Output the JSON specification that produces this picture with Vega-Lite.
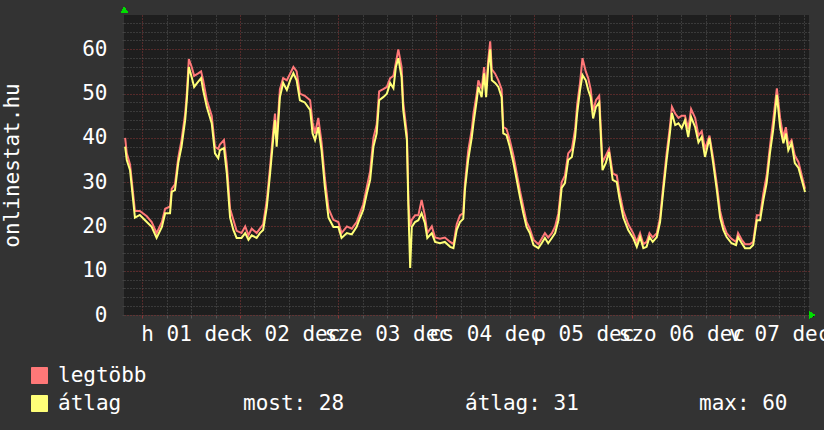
{
  "$schema": "https://vega.github.io/schema/vega-lite/v6.json",
  "width": 685,
  "height": 300,
  "autosize": {"type": "none"},
  "padding": {"left": 124, "top": 15, "right": 15, "bottom": 115},
  "background": "#333333",
  "config": {
    "font": "DejaVu Sans Mono",
    "view": {"fill": "#1e1e1e", "stroke": null}
  },
  "data": {"values": [
    {"h":-4.2,"max":40,"avg":38},{"h":-3.8,"max":36.5,"avg":35},{"h":-3.0,"max":34,"avg":32.7},{"h":-1.8,"max":23.5,"avg":22},{"h":-0.6,"max":23.5,"avg":22.6},
    {"h":1.1,"max":22.3,"avg":21},{"h":2.3,"max":21,"avg":19.9},{"h":3.5,"max":18.5,"avg":17.4},{"h":4.8,"max":21,"avg":19.9},{"h":5.6,"max":24,"avg":23},
    {"h":6.8,"max":24.5,"avg":23},{"h":7.2,"max":28.5,"avg":27.8},{"h":8.0,"max":29.5,"avg":28.2},{"h":8.8,"max":35.5,"avg":34.3},{"h":9.6,"max":39.5,"avg":38},
    {"h":10.5,"max":45.5,"avg":44},{"h":10.9,"max":50,"avg":48.5},{"h":11.4,"max":57.8,"avg":56},{"h":12.1,"max":56,"avg":53.7},{"h":12.7,"max":54,"avg":51.5},
    {"h":13.6,"max":54.5,"avg":52.6},{"h":14.4,"max":55,"avg":53.5},{"h":14.9,"max":53,"avg":50.8},{"h":15.8,"max":48.5,"avg":47},{"h":17.0,"max":45,"avg":43.3},
    {"h":17.8,"max":38,"avg":36.5},{"h":18.6,"max":37.5,"avg":35.4},{"h":19.0,"max":38.5,"avg":37.2},{"h":20.0,"max":39.5,"avg":37.7},{"h":20.7,"max":34,"avg":32},
    {"h":21.5,"max":24,"avg":22},{"h":22.3,"max":21.5,"avg":19.2},{"h":23.1,"max":19,"avg":17.4},{"h":24.3,"max":18.5,"avg":17.4},{"h":25.2,"max":20,"avg":18.5},
    {"h":26.0,"max":18,"avg":17},{"h":26.8,"max":19.5,"avg":18},{"h":28.0,"max":18.5,"avg":17.4},{"h":28.8,"max":19.5,"avg":18.5},{"h":29.6,"max":20.5,"avg":19.2},
    {"h":30.5,"max":26,"avg":24.4},{"h":31.3,"max":33.5,"avg":32},{"h":32.1,"max":42,"avg":40.2},{"h":32.5,"max":45.5,"avg":44},{"h":32.9,"max":40,"avg":38},
    {"h":33.7,"max":51,"avg":49.2},{"h":34.5,"max":53.5,"avg":52.4},{"h":35.4,"max":53,"avg":50.8},{"h":36.2,"max":54.5,"avg":53},{"h":37.0,"max":56,"avg":54.6},
    {"h":37.8,"max":55,"avg":53},{"h":38.6,"max":50,"avg":48.5},{"h":39.8,"max":49.5,"avg":48},{"h":41.1,"max":48.5,"avg":46.3},{"h":41.7,"max":43.5,"avg":41},
    {"h":42.3,"max":41,"avg":39.5},{"h":43.1,"max":44.5,"avg":42.4},{"h":43.9,"max":39,"avg":37.2},{"h":44.7,"max":31,"avg":29},{"h":45.6,"max":24,"avg":22},
    {"h":46.8,"max":21.5,"avg":19.9},{"h":48.0,"max":21,"avg":19.9},{"h":48.8,"max":18.5,"avg":17.4},{"h":50.1,"max":20,"avg":18.5},{"h":51.3,"max":19.5,"avg":18.2},
    {"h":52.5,"max":21,"avg":19.9},{"h":53.3,"max":23,"avg":21.9},{"h":54.1,"max":25,"avg":23.7},{"h":55.0,"max":29,"avg":27.5},{"h":55.8,"max":32.5,"avg":30.5},
    {"h":56.6,"max":40,"avg":38},{"h":57.4,"max":43,"avg":41},{"h":58.0,"max":50.5,"avg":48.5},{"h":59.0,"max":51,"avg":49.2},{"h":59.9,"max":51.5,"avg":50},
    {"h":60.7,"max":53.5,"avg":52.4},{"h":61.5,"max":54,"avg":51.2},{"h":62.1,"max":57,"avg":56},{"h":62.7,"max":60,"avg":58},{"h":63.5,"max":56,"avg":53.7},
    {"h":63.9,"max":48,"avg":46.3},{"h":64.8,"max":41,"avg":39.5},{"h":65.2,"max":25,"avg":23},{"h":65.6,"max":20,"avg":10.6},{"h":66.0,"max":21.5,"avg":19.9},
    {"h":66.8,"max":22.5,"avg":21},{"h":67.6,"max":22.5,"avg":21.4},{"h":68.4,"max":26,"avg":23},{"h":69.2,"max":22.5,"avg":20.8},{"h":69.8,"max":18.5,"avg":17.4},
    {"h":70.9,"max":20,"avg":18.5},{"h":71.7,"max":17.5,"avg":16.5},{"h":72.9,"max":17.2,"avg":16.2},{"h":74.1,"max":17.5,"avg":16.5},{"h":75.4,"max":16.5,"avg":15.4},
    {"h":76.2,"max":16,"avg":15.1},{"h":77.0,"max":20.5,"avg":19.2},{"h":77.8,"max":22.5,"avg":21},{"h":78.6,"max":23,"avg":21.7},{"h":79.0,"max":29.5,"avg":28.2},
    {"h":79.8,"max":37,"avg":35},{"h":80.7,"max":42,"avg":40.2},{"h":81.1,"max":45.5,"avg":43.3},{"h":81.9,"max":50,"avg":48.5},{"h":82.3,"max":53,"avg":51.5},
    {"h":83.1,"max":51,"avg":49.2},{"h":83.7,"max":56,"avg":54.6},{"h":84.2,"max":51,"avg":49.2},{"h":84.7,"max":57.5,"avg":56},{"h":85.2,"max":61.8,"avg":60},
    {"h":85.6,"max":55.5,"avg":53},{"h":86.4,"max":54.5,"avg":52.4},{"h":87.2,"max":53,"avg":51.5},{"h":88.0,"max":51,"avg":49.2},{"h":88.4,"max":42.5,"avg":41},
    {"h":89.2,"max":42,"avg":40.6},{"h":90.0,"max":39.5,"avg":38},{"h":90.9,"max":36,"avg":34.3},{"h":91.7,"max":32,"avg":30.5},{"h":92.5,"max":28,"avg":26.6},
    {"h":93.3,"max":24.5,"avg":23},{"h":94.1,"max":21,"avg":19.9},{"h":94.9,"max":19.5,"avg":18.5},{"h":95.8,"max":17,"avg":15.8},{"h":97.0,"max":16,"avg":15.1},
    {"h":97.8,"max":17.2,"avg":16.2},{"h":98.6,"max":18.5,"avg":17.4},{"h":99.4,"max":17.5,"avg":16.2},{"h":100.3,"max":18.5,"avg":17.4},{"h":101.1,"max":20,"avg":18.5},
    {"h":101.9,"max":23,"avg":21.4},{"h":102.7,"max":30,"avg":28.7},{"h":103.5,"max":31.5,"avg":29.8},{"h":104.3,"max":36.5,"avg":35},{"h":105.2,"max":37.5,"avg":35.7},
    {"h":106.0,"max":42,"avg":40.2},{"h":106.5,"max":47.5,"avg":45.6},{"h":107.2,"max":52.5,"avg":50.8},{"h":107.8,"max":58,"avg":54.2},{"h":108.6,"max":55,"avg":53},
    {"h":109.2,"max":53.5,"avg":50.8},{"h":109.8,"max":51,"avg":49.2},{"h":110.4,"max":46,"avg":44.4},{"h":111.1,"max":48.5,"avg":47},{"h":111.9,"max":49.5,"avg":48},
    {"h":112.7,"max":34.5,"avg":32.7},{"h":113.5,"max":36,"avg":34.3},{"h":114.3,"max":37.5,"avg":36.8},{"h":115.2,"max":32,"avg":30.5},{"h":116.2,"max":31.5,"avg":30},
    {"h":116.8,"max":28,"avg":26.6},{"h":117.8,"max":23.5,"avg":22},{"h":119.0,"max":20.5,"avg":19.2},{"h":120.2,"max":18.5,"avg":17.4},{"h":121.1,"max":16.5,"avg":15.4},
    {"h":121.9,"max":18.5,"avg":17.6},{"h":122.7,"max":16,"avg":15.1},{"h":123.5,"max":16.5,"avg":15.4},{"h":124.2,"max":18.5,"avg":17.6},{"h":125.0,"max":17.5,"avg":16.5},
    {"h":126.0,"max":18.5,"avg":17.6},{"h":126.8,"max":22,"avg":21},{"h":127.6,"max":29.5,"avg":28.2},{"h":128.4,"max":36.5,"avg":35},{"h":129.2,"max":42.5,"avg":41},
    {"h":129.7,"max":47,"avg":45.6},{"h":130.5,"max":45.5,"avg":42.9},{"h":131.3,"max":44.5,"avg":43.3},{"h":132.1,"max":45,"avg":42.2},{"h":132.9,"max":45,"avg":44},
    {"h":133.7,"max":42,"avg":40.2},{"h":134.4,"max":46.5,"avg":44.7},{"h":135.4,"max":44.5,"avg":42.4},{"h":136.2,"max":40.5,"avg":39},{"h":137.0,"max":41.5,"avg":40.2},
    {"h":137.8,"max":37.5,"avg":35.7},{"h":138.9,"max":40.5,"avg":40},{"h":139.8,"max":35.5,"avg":34.3},{"h":140.7,"max":29.5,"avg":28.2},{"h":141.5,"max":23.5,"avg":22},
    {"h":142.3,"max":20.5,"avg":19.2},{"h":143.1,"max":18.5,"avg":17.6},{"h":144.3,"max":17.2,"avg":16.2},{"h":145.4,"max":16.5,"avg":15.8},{"h":145.9,"max":18.5,"avg":17.6},
    {"h":146.8,"max":17,"avg":16.2},{"h":147.6,"max":16,"avg":15.1},{"h":148.8,"max":16,"avg":15.1},{"h":149.6,"max":16.5,"avg":15.8},{"h":150.5,"max":22.5,"avg":21.4},
    {"h":151.3,"max":22.5,"avg":21.4},{"h":152.1,"max":27.5,"avg":26},{"h":152.9,"max":31.5,"avg":29.8},{"h":153.7,"max":38,"avg":36.5},{"h":154.5,"max":44,"avg":41.8},
    {"h":155.4,"max":51.2,"avg":49.7},{"h":156.2,"max":44.5,"avg":42.4},{"h":157.0,"max":40,"avg":38.8},{"h":157.6,"max":42.4,"avg":41},{"h":158.2,"max":38.5,"avg":37.2},
    {"h":159.0,"max":39.5,"avg":38.8},{"h":159.8,"max":36,"avg":34.3},{"h":160.7,"max":34.5,"avg":33.2},{"h":161.5,"max":31.5,"avg":30.5},{"h":162.3,"max":28.5,"avg":27.8}
  ]},
  "encoding": {
    "x": {
      "field": "h", "type": "quantitative",
      "scale": {"domain": [-4.48, 163.27], "nice": false, "zero": false},
      "axis": {
        "title": null,
        "values": [0,6,12,18,24,30,36,42,48,54,60,66,72,78,84,90,96,102,108,114,120,126,132,138,144,150,156,162],
        "labelExpr": "datum.value === 12 ? 'h 01 dec' : datum.value === 36 ? 'k 02 dec' : datum.value === 60 ? 'sze 03 dec' : datum.value === 84 ? 'cs 04 dec' : datum.value === 108 ? 'p 05 dec' : datum.value === 132 ? 'szo 06 dec' : datum.value === 156 ? 'v 07 dec' : ''",
        "labelOverlap": false, "labelBound": false, "labelFlush": false,
        "labelFont": "DejaVu Sans Mono", "labelFontSize": 21, "labelColor": "#ffffff",
        "labelPadding": 5, "tickSize": 3,
        "tickColor": {"condition": {"test": "datum.value % 24 === 0", "value": "#8c3636"}, "value": "#555555"},
        "domain": false,
        "grid": true,
        "gridColor": {"condition": {"test": "datum.value % 24 === 0", "value": "#8c3636"}, "value": "#565656"},
        "gridDash": [1, 2], "gridWidth": 1
      }
    },
    "y": {
      "type": "quantitative",
      "scale": {"domain": [0, 67.75], "nice": false},
      "axis": {
        "title": "onlinestat.hu",
        "titleFont": "DejaVu Sans Mono", "titleFontSize": 21, "titleFontWeight": "normal", "titleColor": "#ffffff",
        "titlePadding": 59,
        "values": [0,2,4,6,8,10,12,14,16,18,20,22,24,26,28,30,32,34,36,38,40,42,44,46,48,50,52,54,56,58,60,62,64,66],
        "labelExpr": "datum.value % 10 === 0 ? datum.label : ''",
        "labelFont": "DejaVu Sans Mono", "labelFontSize": 21, "labelColor": "#ffffff",
        "labelPadding": 15, "tickSize": 2, "tickColor": "#444444",
        "domain": false,
        "grid": true,
        "gridColor": {"condition": {"test": "datum.value % 10 === 0", "value": "#8c3636"}, "value": "#565656"},
        "gridDash": [1, 2], "gridWidth": 1
      }
    }
  },
  "layer": [
    {
      "mark": {"type": "line", "strokeWidth": 2, "interpolate": "linear"},
      "encoding": {
        "y": {"field": "max", "type": "quantitative"},
        "color": {
          "datum": "legtöbb",
          "scale": {"domain": ["legtöbb", "átlag"], "range": ["#ff7878", "#ffff78"]},
          "legend": {
            "title": null, "orient": "none", "legendX": -95, "legendY": 350, "direction": "vertical",
            "padding": 0, "symbolType": "square", "symbolSize": 256, "rowPadding": 6, "labelOffset": 8,
            "labelFont": "DejaVu Sans Mono", "labelFontSize": 21, "labelColor": "#ffffff",
            "encode": {"symbols": {"update": {"fill": {"scale": "color", "field": "value"}, "stroke": {"value": "#000000"}, "strokeWidth": {"value": 1}, "opacity": {"value": 1}}}}
          }
        }
      }
    },
    {
      "mark": {"type": "line", "strokeWidth": 2, "interpolate": "linear"},
      "encoding": {
        "y": {"field": "avg", "type": "quantitative"},
        "color": {"datum": "átlag"}
      }
    },
    {
      "data": {"values": [{"stat": "most: 28"}, {"stat": "átlag: 31"}, {"stat": "max: 60"}]},
      "mark": {"type": "point", "opacity": 0},
      "encoding": {
        "x": {"datum": 0},
        "y": {"datum": 0},
        "shape": {
          "field": "stat", "type": "nominal",
          "scale": {"domain": ["most: 28", "átlag: 31", "max: 60"], "range": ["circle", "circle", "circle"]},
          "legend": {
            "title": null, "orient": "none", "legendX": 98, "legendY": 378, "direction": "horizontal",
            "padding": 0, "symbolSize": 0, "symbolOpacity": 0, "labelOffset": 0, "columnPadding": 99,
            "labelFont": "DejaVu Sans Mono", "labelFontSize": 21, "labelColor": "#ffffff"
          }
        }
      }
    },
    {
      "mark": {"type": "point", "shape": "triangle-up", "filled": true, "color": "#00dd00", "size": 45, "opacity": 1},
      "encoding": {"x": {"datum": -4.4}, "y": {"datum": 68.9}}
    },
    {
      "mark": {"type": "point", "shape": "triangle-right", "filled": true, "color": "#00dd00", "size": 45, "opacity": 1},
      "encoding": {"x": {"datum": 164.0}, "y": {"datum": 0}}
    }
  ]
}
